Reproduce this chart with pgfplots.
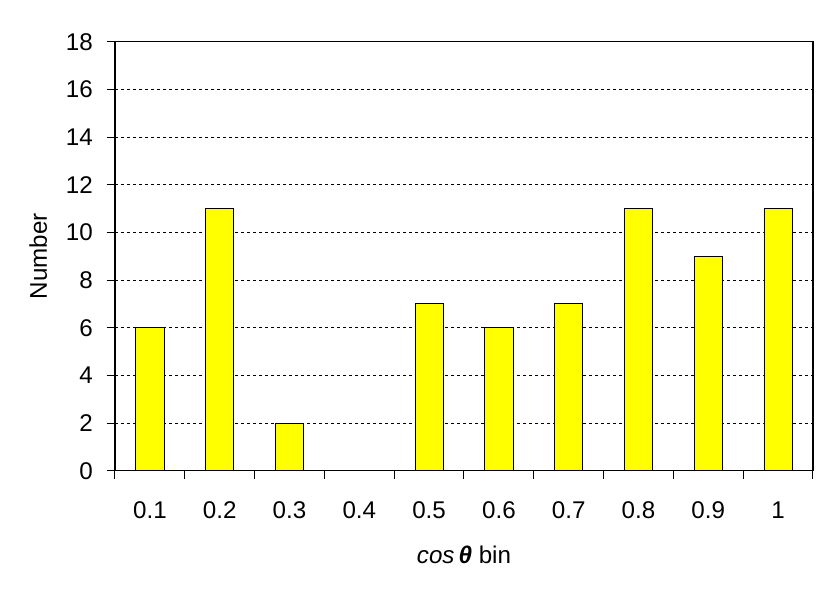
\documentclass[border=0pt]{standalone}
\usepackage{fontspec}
\setmainfont{Liberation Sans}
\usepackage{pgfplots}
\pgfplotsset{compat=1.18}
\definecolor{baryel}{HTML}{FFFF00}

\begin{document}
\begin{tikzpicture}[x=0.6pt,y=0.6pt]
\path[use as bounding box] (-115,-124.3) rectangle (715,470.7);
\begin{axis}[
  at={(0,0)},anchor=south west,
  scale only axis,width=418.8pt,height=257.4pt,
  tick label style={font=\fontsize{14.5}{16}\selectfont},
  label style={font=\fontsize{14.5}{16}\selectfont},
  xmin=-0.5,xmax=9.5,ymin=0,ymax=18,
  ytick={0,2,...,18},
  xtick={0,...,9},
  xticklabels={0.1,0.2,0.3,0.4,0.5,0.6,0.7,0.8,0.9,1},
  minor xtick={-0.5,0.5,...,9.5},
  major x tick style={draw=none},
  tick align=outside,
  xtick pos=bottom,ytick pos=left,
  major tick length=4.8pt,minor tick length=4.8pt,
  tick style={black,line width=0.6pt},
  axis line style={black,line width=0.8pt},
  /pgf/number format/assume math mode=true,
  xticklabel style={anchor=center,yshift=-19pt},
  yticklabel style={anchor=east,xshift=-5pt},
  ymajorgrids,grid style={black,dash pattern=on 2pt off 1.6pt,line width=0.5pt},
  ylabel={Number},
  xlabel={{\itshape cos}\,{\bfseries\itshape θ} bin},
  ylabel style={at={(axis description cs:-0.11,0.5)},anchor=center,rotate=0},
  xlabel style={at={(axis description cs:0.5,-0.197)},anchor=center},
]
\addplot[ybar,bar width=17pt,fill=baryel,draw=black,line width=0.5pt]
  coordinates {(0,6) (1,11) (2,2) (3,0) (4,7) (5,6) (6,7) (7,11) (8,9) (9,11)};
\end{axis}
\end{tikzpicture}
\end{document}
